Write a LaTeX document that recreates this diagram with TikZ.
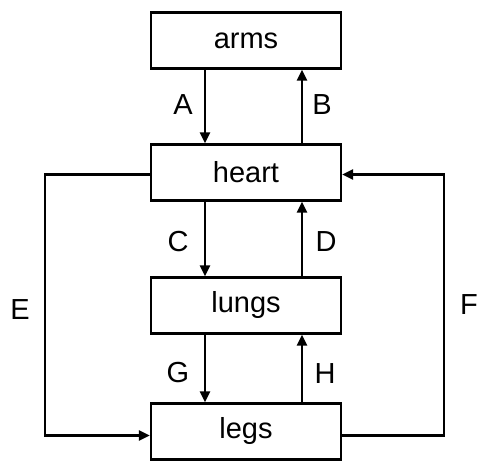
\documentclass[tikz,border=0pt]{standalone}
\usepackage{fontspec}
\setmainfont{Liberation Sans}
\usetikzlibrary{arrows.meta}
\begin{document}
\begin{tikzpicture}[x=1pt,y=-1pt,
  box/.style={draw, line width=2.2pt, minimum width=190pt, minimum height=56pt, inner sep=0pt, font=\fontsize{29}{31}\selectfont},
  lab/.style={font=\fontsize{29}{31}\selectfont, inner sep=0pt},
  conn/.style={line width=2.2pt, -{Triangle[length=11pt,width=10pt]}}]
\useasboundingbox (0,0) rectangle (477,462);
\node[box] (arms)  at (246,40.5)  {arms};
\node[box] (heart) at (246,172.5) {heart};
\node[box] (lungs) at (246,305.5) {lungs};
\node[box] (legs)  at (246,431.5) {legs};
\coordinate (eL) at (45,0);
\coordinate (fR) at (444,0);
\draw[conn] ([xshift=-41pt]arms.south) -- ([xshift=-41pt]heart.north);
\draw[conn] ([xshift=56pt]heart.north) -- ([xshift=56pt]arms.south);
\draw[conn] ([xshift=-41pt]heart.south) -- ([xshift=-41pt]lungs.north);
\draw[conn] ([xshift=56pt]lungs.north) -- ([xshift=56pt]heart.south);
\draw[conn] ([xshift=-41pt]lungs.south) -- ([xshift=-41pt]legs.north);
\draw[conn] ([xshift=56pt]legs.north) -- ([xshift=56pt]lungs.south);
\draw[conn] ([yshift=-2pt]heart.west) -- ([yshift=-2pt]heart.west -| eL) |- ([yshift=-4pt]legs.west);
\draw[conn] ([yshift=-4pt]legs.east) -- ([yshift=-4pt]legs.east -| fR) |- ([yshift=-2pt]heart.east);
\node[lab] (lA) at (183,105) {A};
\node[lab] (lB) at (322,105) {B};
\node[lab] (lC) at (178,242) {C};
\node[lab] (lD) at (326,242) {D};
\node[lab] (lE) at (20,310) {E};
\node[lab] (lF) at (469,305) {F};
\node[lab] (lG) at (178,373) {G};
\node[lab] (lH) at (325,374) {H};
\end{tikzpicture}
\end{document}
